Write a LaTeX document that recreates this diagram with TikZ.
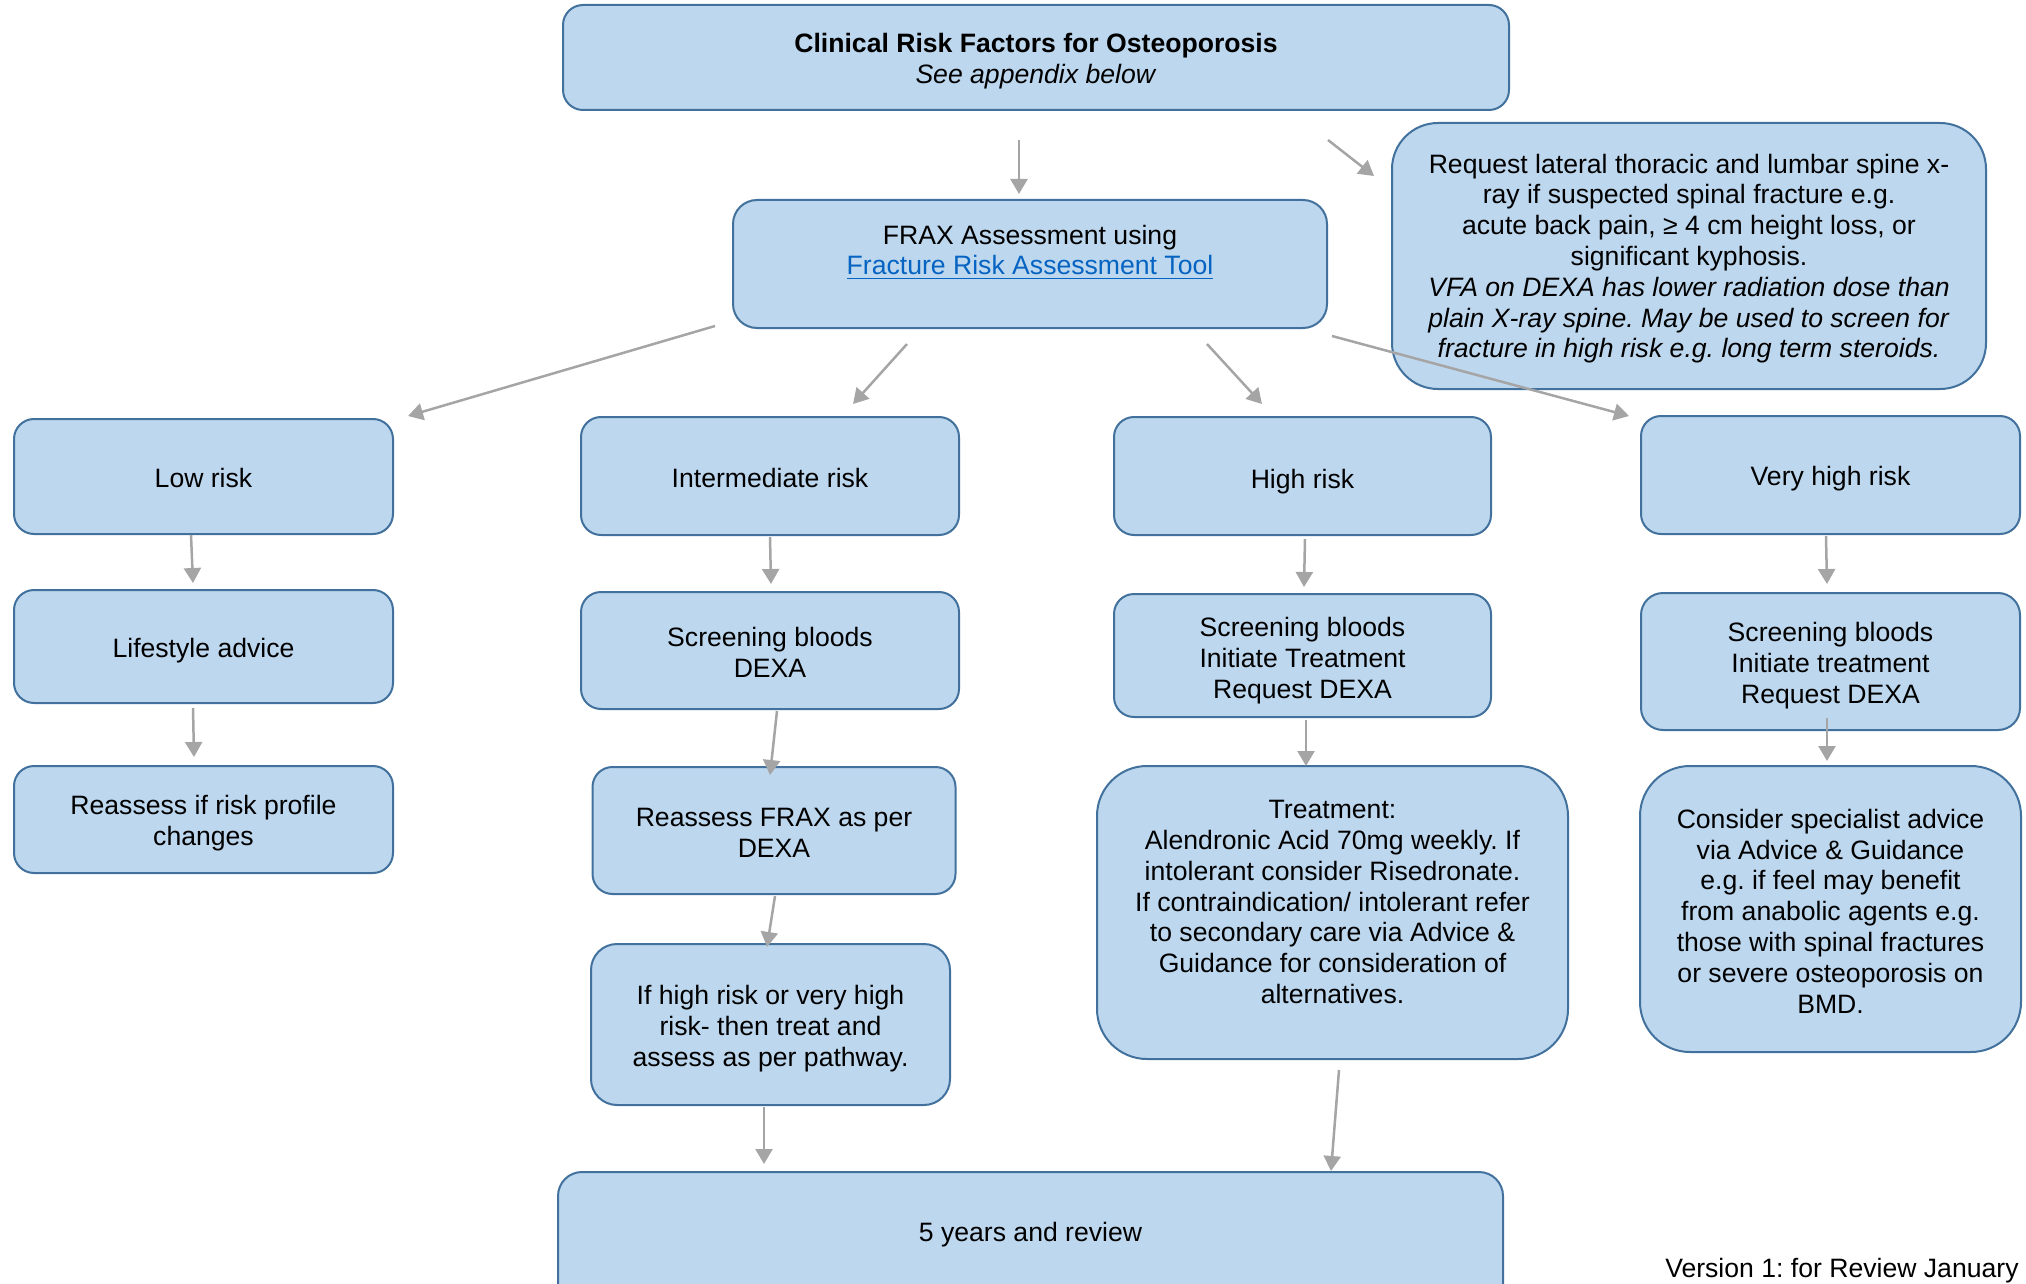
\documentclass[tikz,border=0pt]{standalone}
\usepackage{fontspec}
\setmainfont{Liberation Sans}
\usetikzlibrary{arrows.meta}
\definecolor{boxfill}{HTML}{BDD7EE}
\definecolor{boxline}{HTML}{41719C}
\definecolor{arrowgray}{HTML}{A5A5A5}
\definecolor{linkblue}{HTML}{0563C1}
\newcommand\bodyfont{\fontsize{13.3pt}{15.4pt}\selectfont\frenchspacing}
\tikzset{
  box/.style={draw=boxline, fill=boxfill, line width=1pt, rounded corners=#1,
    inner sep=0pt},
  box/.default=10pt,
  txt/.style={inner sep=0pt, align=center, font=\bodyfont},
  arr/.style={draw=arrowgray, line width=1.25pt, -{Triangle[width=8.5pt,length=7.5pt]}}
}
% \bx[radius]{name}{x}{y}{width}{height}{text shift down}{text}
\newcommand\bx[8][10pt]{%
  \node[box=#1, minimum width=#5, minimum height=#6] (#2) at (#3,#4) {};
  \node[txt] (#2T) at ([yshift=-1*#7]#2.center) {#8};}
\begin{document}
\begin{tikzpicture}[x=0.5pt, y=-0.5pt]
\useasboundingbox (0,0) rectangle (2026,1284);
\clip (0,0) rectangle (2026,1284);
% boxes
\bx{top}{1036}{57.5}{473pt}{52.5pt}{1.8pt}
  {\textbf{Clinical Risk Factors for Osteoporosis}\\\textit{See appendix below}}
\bx[12pt]{frax}{1030}{264}{297pt}{64pt}{-6pt}
  {FRAX Assessment using\\\textcolor{linkblue}{\underline{Fracture Risk Assessment Tool}}}
\bx[23pt]{note}{1689}{256}{297pt}{133pt}{1.3pt}
  {Request lateral thoracic and lumbar spine x-\\ray if suspected spinal fracture e.g.\\acute back pain, ≥ 4 cm height loss, or\\significant kyphosis.\\\textit{VFA on DEXA has lower radiation dose than}\\\textit{plain X-ray spine. May be used to screen for}\\\textit{fracture in high risk e.g. long term steroids.}}
\bx{low}{203.5}{476.5}{189.5pt}{57.5pt}{0.5pt}{Low risk}
\bx{inter}{770}{476}{189pt}{59pt}{1pt}{Intermediate risk}
\bx{high}{1302.5}{476}{188.5pt}{59pt}{2.6pt}{High risk}
\bx{vhigh}{1830.5}{475}{189.5pt}{59pt}{2pt}{Very high risk}
\bx{life}{203.5}{646.5}{189.5pt}{56.5pt}{2pt}{Lifestyle advice}
\bx{scrI}{770}{650.5}{189pt}{58.5pt}{1pt}{Screening bloods\\DEXA}
\bx{scrH}{1302.5}{655.5}{188.5pt}{61.5pt}{2.6pt}{Screening bloods\\Initiate Treatment\\Request DEXA}
\bx[11pt]{scrV}{1830.5}{661.5}{189.5pt}{68.5pt}{2pt}{Screening bloods\\Initiate treatment\\Request DEXA}
\bx{reassL}{203.5}{819.5}{189.5pt}{53.5pt}{2pt}{Reassess if risk profile\\changes}
\bx{reassF}{774}{830.5}{181.5pt}{63.5pt}{1pt}{Reassess FRAX as per\\DEXA}
\bx[13pt]{ifhigh}{770.5}{1024.5}{179.5pt}{80.5pt}{2pt}{If high risk or very high\\risk- then treat and\\assess as per pathway.}
\bx[25pt]{treat}{1332.5}{912.5}{235.5pt}{146.5pt}{-5.2pt}{Treatment:\\Alendronic Acid 70mg weekly. If\\intolerant consider Risedronate.\\If contraindication/ intolerant refer\\to secondary care via Advice \&\\Guidance for consideration of\\alternatives.}
\bx[25pt]{consider}{1830.5}{909}{190.5pt}{143pt}{1pt}{Consider specialist advice\\via Advice \& Guidance\\e.g. if feel may benefit\\from anabolic agents e.g.\\those with spinal fractures\\or severe osteoporosis on\\BMD.}
\bx[12pt]{five}{1030.5}{1251}{472.5pt}{79pt}{-8.2pt}{5 years and review}
\node[txt, anchor=east] (version) at (2019,1271) {Version 1: for Review January};
% connector end points
\coordinate (a1s) at (1019,140);  \coordinate (a1e) at (1019,194);
\coordinate (a2s) at (1328,140);  \coordinate (a2e) at (1374,176);
\coordinate (a3s) at (715,326);   \coordinate (a3e) at (408,416);
\coordinate (a4s) at (907,344);   \coordinate (a4e) at (853,404);
\coordinate (a5s) at (1207,344);  \coordinate (a5e) at (1262,404);
\coordinate (a6s) at (1332,336);  \coordinate (a6e) at (1629,416);
\coordinate (a7s) at (191,535);   \coordinate (a7e) at (193,583);
\coordinate (a8s) at (193,708);   \coordinate (a8e) at (194,757);
\coordinate (a9s) at (770,537);   \coordinate (a9e) at (771,584);
\coordinate (a10s) at (777,711);  \coordinate (a10e) at (770,775);
\coordinate (a11s) at (775,896);  \coordinate (a11e) at (767,947);
\coordinate (a12s) at (764,1107); \coordinate (a12e) at (764,1164);
\coordinate (a13s) at (1305,539); \coordinate (a13e) at (1304,587);
\coordinate (a14s) at (1306,720); \coordinate (a14e) at (1306,766);
\coordinate (a15s) at (1339,1070);\coordinate (a15e) at (1331,1171);
\coordinate (a16s) at (1826,536); \coordinate (a16e) at (1827,584);
\coordinate (a17s) at (1827,718); \coordinate (a17e) at (1827,761);
% connectors
\foreach \i in {1,...,17} {\draw[arr] (a\i s) -- (a\i e);}
\end{tikzpicture}
\end{document}
